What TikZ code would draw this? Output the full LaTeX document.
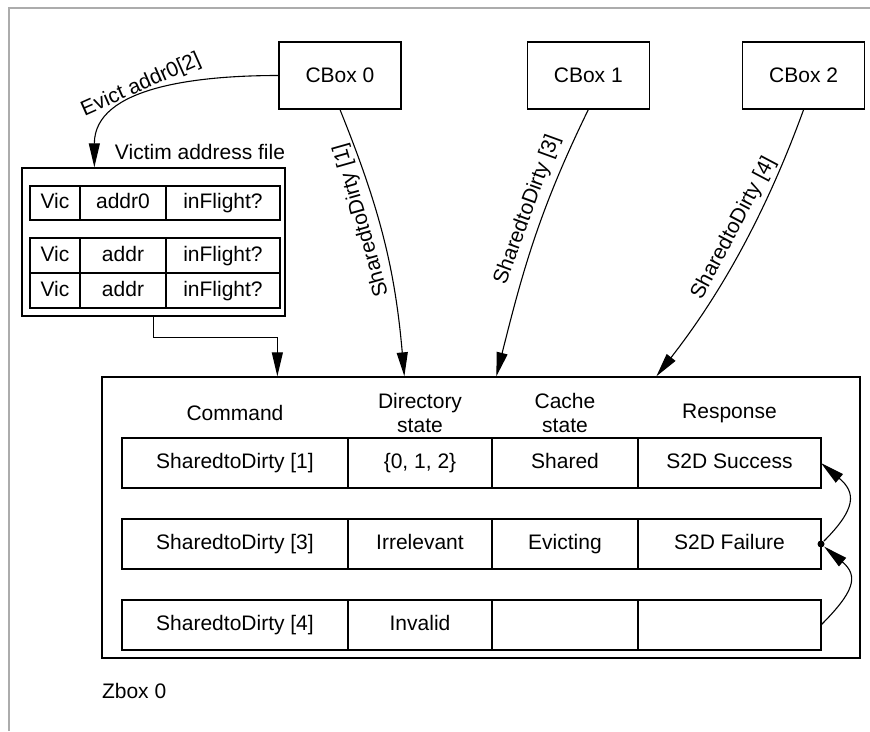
\documentclass[tikz,border=0pt]{standalone}
\usepackage{fontspec}
\setmainfont{Liberation Sans}
\usetikzlibrary{
    positioning,
    arrows.meta
}

\begin{document}
\begin{tikzpicture}[
    x=1pt, y=1pt,
    line width=1.3pt,
    every node/.style={font=\fontsize{21}{24}\selectfont},
    cbox/.style={
        rectangle,
        draw,
        minimum width=122pt,
        minimum height=67pt
    },
    frame/.style={
        rectangle,
        draw
    },
    viccell/.style={
        rectangle,
        draw,
        outer sep=0pt,
        inner sep=0pt,
        text height=15pt,
        text depth=4pt,
        minimum height=35pt
    },
    cell/.style={
        rectangle,
        draw,
        outer sep=0pt,
        inner sep=0pt,
        text height=15pt,
        text depth=4pt,
        minimum height=50pt
    },
    header/.style={
        align=center,
        inner sep=0pt
    },
    dot/.style={
        circle,
        fill,
        inner sep=0pt,
        minimum size=7pt
    },
    arrow/.style={
        -{Triangle[length=24pt,width=11pt]},
        line width=1.1pt
    },
    edgelabel/.style={
        sloped,
        above,
        inner sep=6pt
    }
]

\useasboundingbox (0,0) rectangle (870,-731);

% ============================================================
% PAGE FRAME
% ============================================================

\draw[gray!65, line width=2pt] (9,-731) -- (9,-8) -- (870,-8);

% ============================================================
% CBOXES
% ============================================================

\node[cbox] (cbox0) at (340,-75.5) {CBox 0};
\node[cbox, right=125pt of cbox0] (cbox1) {CBox 1};
\node[cbox, right=92pt of cbox1] (cbox2) {CBox 2};

% ============================================================
% VICTIM ADDRESS FILE
% ============================================================

\node[frame, minimum width=263pt, minimum height=148pt] (victim)
    at (153.5,-242) {};
\node[anchor=south east, inner sep=0pt, yshift=7pt] (viclabel)
    at (victim.north east) {Victim address file};

\node[viccell, minimum width=50pt, minimum height=34pt] (vic1)
    at (55,-203) {Vic};
\node[viccell, minimum width=86pt, minimum height=34pt,
      right=0pt of vic1] (addr1) {addr0};
\node[viccell, minimum width=114pt, minimum height=34pt,
      right=0pt of addr1] (flight1) {inFlight?};

\node[viccell, minimum width=50pt] (vic2) at (55,-255.5) {Vic};
\node[viccell, minimum width=86pt, right=0pt of vic2] (addr2) {addr};
\node[viccell, minimum width=114pt, right=0pt of addr2] (flight2) {inFlight?};

\node[viccell, minimum width=50pt, below=0pt of vic2] (vic3) {Vic};
\node[viccell, minimum width=86pt, right=0pt of vic3] (addr3) {addr};
\node[viccell, minimum width=114pt, right=0pt of addr3] (flight3) {inFlight?};

% ============================================================
% ZBOX
% ============================================================

\node[frame, minimum width=758pt, minimum height=281pt] (zbox)
    at (481,-517.5) {};
\node[anchor=north west, inner sep=0pt, yshift=-24pt] (zlabel)
    at (zbox.south west) {Zbox 0};

% rows
\node[cell, minimum width=226pt] (cmd1) at (235,-463) {SharedtoDirty [1]};
\node[cell, minimum width=144pt, right=0pt of cmd1] (dir1) {\{0, 1, 2\}};
\node[cell, minimum width=146pt, right=0pt of dir1] (cache1) {Shared};
\node[cell, minimum width=183pt, right=0pt of cache1] (resp1) {S2D Success};

\node[cell, minimum width=226pt, below=31pt of cmd1] (cmd2) {SharedtoDirty [3]};
\node[cell, minimum width=144pt, right=0pt of cmd2] (dir2) {Irrelevant};
\node[cell, minimum width=146pt, right=0pt of dir2] (cache2) {Evicting};
\node[cell, minimum width=183pt, right=0pt of cache2] (resp2) {S2D Failure};

\node[cell, minimum width=226pt, below=31pt of cmd2] (cmd3) {SharedtoDirty [4]};
\node[cell, minimum width=144pt, right=0pt of cmd3] (dir3) {Invalid};
\node[cell, minimum width=146pt, right=0pt of dir3] (cache3) {};
\node[cell, minimum width=183pt, right=0pt of cache3] (resp3) {};

% column headings
\coordinate (headline) at (0,-413);
\node[header] (hcmd) at (cmd1 |- headline) {Command};
\node[header] (hdir) at (dir1 |- headline) {Directory\\state};
\node[header] (hcache) at (cache1 |- headline) {Cache\\state};
\node[header] (hresp) at (resp1 |- headline) {Response};

\node[dot] (junction) at (resp2.east) {};

% ============================================================
% CONNECTIONS
% ============================================================

\draw[arrow] (cbox0.west) to[out=180, in=90]
    node[sloped, above=1pt, pos=0.55, inner sep=0pt] {Evict addr0[2]}
    ([xshift=73pt]victim.north west);

\draw[arrow] (victim.south) -- ++(0,-21) -| ([xshift=176pt]zbox.north west);

\draw[arrow] (cbox0.south) to[out=-68, in=95]
    node[edgelabel, pos=0.4, rotate=180] {SharedtoDirty [1]}
    ([xshift=303pt]zbox.north west);
\draw[arrow] (cbox1.south) to[out=-116, in=76]
    node[edgelabel, pos=0.4] {SharedtoDirty [3]}
    ([xshift=395pt]zbox.north west);
\draw[arrow] (cbox2.south) to[out=-110, in=52, looseness=0.9]
    node[edgelabel, pos=0.45] {SharedtoDirty [4]}
    ([xshift=555pt]zbox.north west);

\draw[arrow] (resp3.east) to[out=45, in=-40, looseness=1.5] (junction);
\draw[arrow] (junction) to[out=45, in=-40, looseness=1.5] (resp1.east);

\end{tikzpicture}
\end{document}
